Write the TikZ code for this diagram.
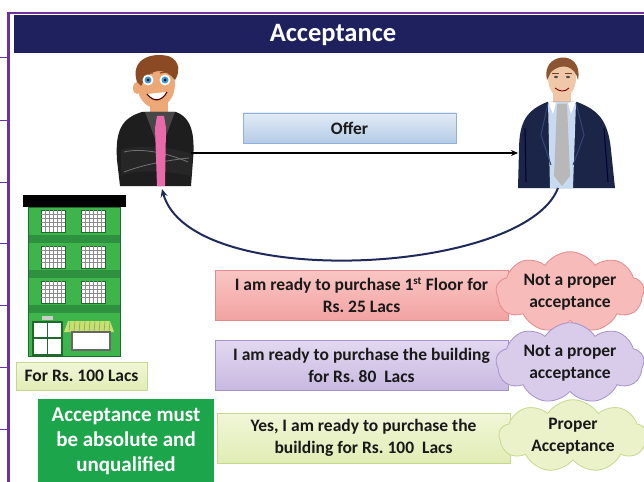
\documentclass[tikz,border=0pt]{standalone}
\usepackage{fontspec}
\setmainfont{Carlito}
\usetikzlibrary{shapes.symbols,arrows.meta}
\frenchspacing
\definecolor{navy}{HTML}{1F215E}
\definecolor{framepurple}{HTML}{7030A0}
\definecolor{curvenavy}{HTML}{1F2A5C}
\definecolor{offertop}{HTML}{E2EBF6}
\definecolor{offerbot}{HTML}{B4CBE6}
\definecolor{offerline}{HTML}{8FB0DA}
\definecolor{redtop}{HTML}{F9C6C4}
\definecolor{redbot}{HTML}{F2A3A2}
\definecolor{redline}{HTML}{E58A8A}
\definecolor{purtop}{HTML}{E2D9F0}
\definecolor{purbot}{HTML}{C8B8E0}
\definecolor{purline}{HTML}{A592CB}
\definecolor{yeltop}{HTML}{F1F6D8}
\definecolor{yelbot}{HTML}{E1EDB5}
\definecolor{yelline}{HTML}{C5D88C}
\definecolor{accgreen}{HTML}{1DA54B}
\definecolor{bgreen}{HTML}{3DB54A}
\definecolor{bband}{HTML}{2E9140}
\definecolor{bdark}{HTML}{1E6A2C}
\definecolor{awning}{HTML}{C9E06A}
\definecolor{lskin}{HTML}{EDA878}
\definecolor{lhair}{HTML}{8B4A24}
\definecolor{lsuit}{HTML}{1E1E1E}
\definecolor{lshirt}{HTML}{474747}
\definecolor{ltie}{HTML}{E86AA8}
\definecolor{eyeblue}{HTML}{3AA0DC}
\definecolor{rskin}{HTML}{F0C8A8}
\definecolor{rhair}{HTML}{8A5530}
\definecolor{rsuit}{HTML}{1A2547}
\definecolor{rlapel}{HTML}{34467A}
\definecolor{rshirt}{HTML}{C8DAF0}
\definecolor{rtie}{HTML}{B8B8B8}
\tikzset{
  boxfont/.style={font=\bfseries\fontsize{17.5}{21.5}\selectfont, text=black!90},
  msgbox/.style={boxfont, draw, line width=0.8pt, minimum width=293pt, minimum height=50pt, inner sep=0pt, align=center},
  cloudbox/.style={boxfont, cloud, cloud puffs=9, cloud puff arc=115, aspect=2.2, minimum width=148pt, minimum height=68pt, inner sep=0pt, draw, line width=0.8pt, align=center},
  window/.style={fill=white, draw=bdark, line width=0.8pt},
}
\begin{document}
\begin{tikzpicture}[x=1pt,y=-1pt]
\useasboundingbox (0,0) rectangle (644,481);
\fill[white] (0,0) rectangle (644,481);
% frame
\draw[framepurple, line width=2.5pt] (8.5,482) -- (8.5,13) -- (645,13);
\foreach \yy in {58,121,182,243,305,367,429}
  \draw[framepurple, line width=1pt] (0,\yy) -- (8,\yy);
% title
\fill[navy] (14,15.5) rectangle (645,53);
\node[font=\bfseries\fontsize{26.5}{28}\selectfont, text=white] (title) at (333,35) {Acceptance};
% offer box
\node[boxfont, draw=offerline, top color=offertop, bottom color=offerbot, line width=0.8pt, minimum width=213pt, minimum height=30pt, inner sep=0pt] (offer) at (349.5,128) {Offer};

% ---------- left person ----------
\fill[lskin] (150,98) rectangle (168,116);
\fill[lsuit] (120,186) -- (117,160) .. controls (115,130) and (122,118) .. (142,112) -- (176,112) .. controls (192,118) and (195,135) .. (193,160) -- (191,186) -- cycle;
\fill[lshirt] (145,112) -- (160,152) -- (175,112) -- cycle;
\fill[black!85] (121,150) .. controls (135,144) and (175,147) .. (192,154) -- (191,176) .. controls (170,171) and (135,169) .. (121,176) -- cycle;
\draw[black!55, line width=0.8pt] (124,152) .. controls (140,148) and (165,152) .. (188,162);
\draw[black!55, line width=0.8pt] (124,172) .. controls (145,164) and (170,160) .. (189,158);
\fill[ltie] (157,116) -- (164,116) -- (166,128) -- (165,186) -- (157,186) -- (155,128) -- cycle;
\fill[lskin] (137,88) ellipse (4 and 6);
\fill[lskin] (156,84) ellipse (19 and 24);
\fill[lhair] (137,82) .. controls (130,60) and (150,52) .. (168,56) .. controls (182,61) and (179,74) .. (175,80) .. controls (166,68) and (150,66) .. (141,86) -- cycle;
\foreach \ex in {148,165} {
  \fill[white] (\ex,80) circle (5.5);
  \fill[eyeblue] (\ex,80) circle (3.5);
  \fill[black] (\ex,80) circle (1.5);
}
\draw[lhair, line width=1.2pt] (142,72) -- (153,73);
\draw[lhair, line width=1.2pt] (160,73) -- (171,71);
\fill[white] (147,94) .. controls (154,103) and (162,101) .. (167,92) -- cycle;
\draw[black!70!red, line width=1.1pt] (147,94) .. controls (154,103) and (162,101) .. (167,92);
\coordinate (lpR) at (191,153);
\coordinate (lpB) at (162,189);

% ---------- right person ----------
\fill[rskin] (553,90) rectangle (571,106);
\fill[rsuit] (518,188) -- (519,150) .. controls (519,120) and (528,110) .. (547,102) -- (577,102) .. controls (598,110) and (608,120) .. (611,150) -- (615,188) -- cycle;
\fill[rshirt] (548,102) -- (576,102) -- (573,188) -- (550,188) -- cycle;
\fill[white] (548,101) -- (556,103) -- (553,114) -- cycle;
\fill[white] (576,101) -- (568,103) -- (571,114) -- cycle;
\fill[rtie] (557,104) -- (567,104) -- (570,176) -- (562,186) -- (554,176) -- cycle;
\draw[rlapel, line width=1pt] (548,103) -- (541,135) -- (551,165);
\draw[rlapel, line width=1pt] (576,103) -- (584,135) -- (573,165);
\draw[black!80!blue, line width=1pt] (525,128) -- (526,182);
\draw[black!80!blue, line width=1pt] (604,128) -- (608,182);
\fill[rskin] (562,78) ellipse (14 and 20);
\fill[rhair] (547,80) .. controls (540,52) and (584,48) .. (578,80) .. controls (575,66) and (562,62) .. (551,72) -- cycle;
\fill[black!70] (556,77) ellipse (2 and 1.2);
\fill[black!70] (568,77) ellipse (2 and 1.2);
\draw[rhair!80!black, line width=0.8pt] (552,73) -- (559,73);
\draw[rhair!80!black, line width=0.8pt] (565,73) -- (572,73);
\draw[black!50!red, line width=0.9pt] (555,88) .. controls (560,92) and (565,92) .. (569,88);
\coordinate (rpL) at (518,153);
\coordinate (rpB) at (558,188);

% connectors
\draw[black, line width=1.5pt, -{Stealth[length=7pt,width=6pt]}] (lpR) -- (rpL);
\draw[curvenavy, line width=2pt, -{Stealth[length=8pt,width=7pt]}] (rpB) .. controls (525,275) and (190,292) .. (lpB);

% ---------- building ----------
\fill[bgreen] (28,207) rectangle (120,356);
\foreach \yy in {235,270,305}
  \fill[bband] (28,\yy) rectangle (120,\yy+8);
\draw[bdark, line width=1pt] (28,207) rectangle (120,356);
\fill[black] (23,195) rectangle (126,207);
\foreach \wx in {41,81} {
  \foreach \wy in {210,246,281} {
    \draw[window] (\wx,\wy) rectangle (\wx+24,\wy+22);
    \foreach \gx in {4,8,...,20}
      \draw[black!45, line width=0.5pt] (\wx+\gx,\wy) -- (\wx+\gx,\wy+22);
    \foreach \gy in {4,8,...,18}
      \draw[black!45, line width=0.5pt] (\wx,\wy+\gy) -- (\wx+24,\wy+\gy);
  }
}
\fill[black!20] (42,316) rectangle (53,320);
\draw[bdark, line width=2pt, fill=white] (33,322) rectangle (62,355);
\draw[bdark, line width=1.5pt] (47.5,322) -- (47.5,355);
\draw[bdark, line width=1.5pt] (33,338) -- (62,338);
\fill[awning] (68,321) -- (110,321) -- (114,332) -- (64,332) -- cycle;
\foreach \ax in {70,75,...,110}
  \draw[bdark!60, line width=0.6pt] (\ax,321.5) -- (\ax-1,331.5);
\draw[black!60, line width=1.2pt, fill=white] (72,332) rectangle (110,350);

% price box
\node[boxfont, draw=yelline, top color=yeltop, bottom color=yelbot, line width=0.8pt, minimum width=131pt, minimum height=28pt, inner sep=0pt] (price) at (81.5,376) {For Rs. 100 Lacs};

% green box
\fill[accgreen] (38,399) rectangle (214,484);
\node[font=\bfseries\fontsize{21}{25}\selectfont, text=white, align=center] (rule) at (126,441) {Acceptance must\\be absolute and\\unqualified};

% message boxes
\node[msgbox, draw=redline, top color=redtop, bottom color=redbot] (m1) at (361.5,295) {I am ready to purchase 1\textsuperscript{\fontsize{11}{11}\selectfont st} Floor for\\Rs. 25 Lacs};
\node[msgbox, draw=purline, top color=purtop, bottom color=purbot] (m2) at (361.5,365.5) {I am ready to purchase the building\\for Rs. 80~ Lacs};
\node[msgbox, draw=yelline, top color=yeltop, bottom color=yelbot] (m3) at (363.5,438) {Yes, I am ready to purchase the\\building for Rs. 100~ Lacs};

% clouds
\node[cloudbox, draw=redline, fill=redtop!70!redbot] (c1) at (570,292) {Not a proper\\acceptance};
\node[cloudbox, draw=purline, fill=purtop!60!purbot] (c2) at (570,363) {Not a proper\\acceptance};
\node[cloudbox, draw=yelline, fill=yeltop!60!yelbot] (c3) at (573,436) {Proper\\Acceptance};
\end{tikzpicture}
\end{document}
